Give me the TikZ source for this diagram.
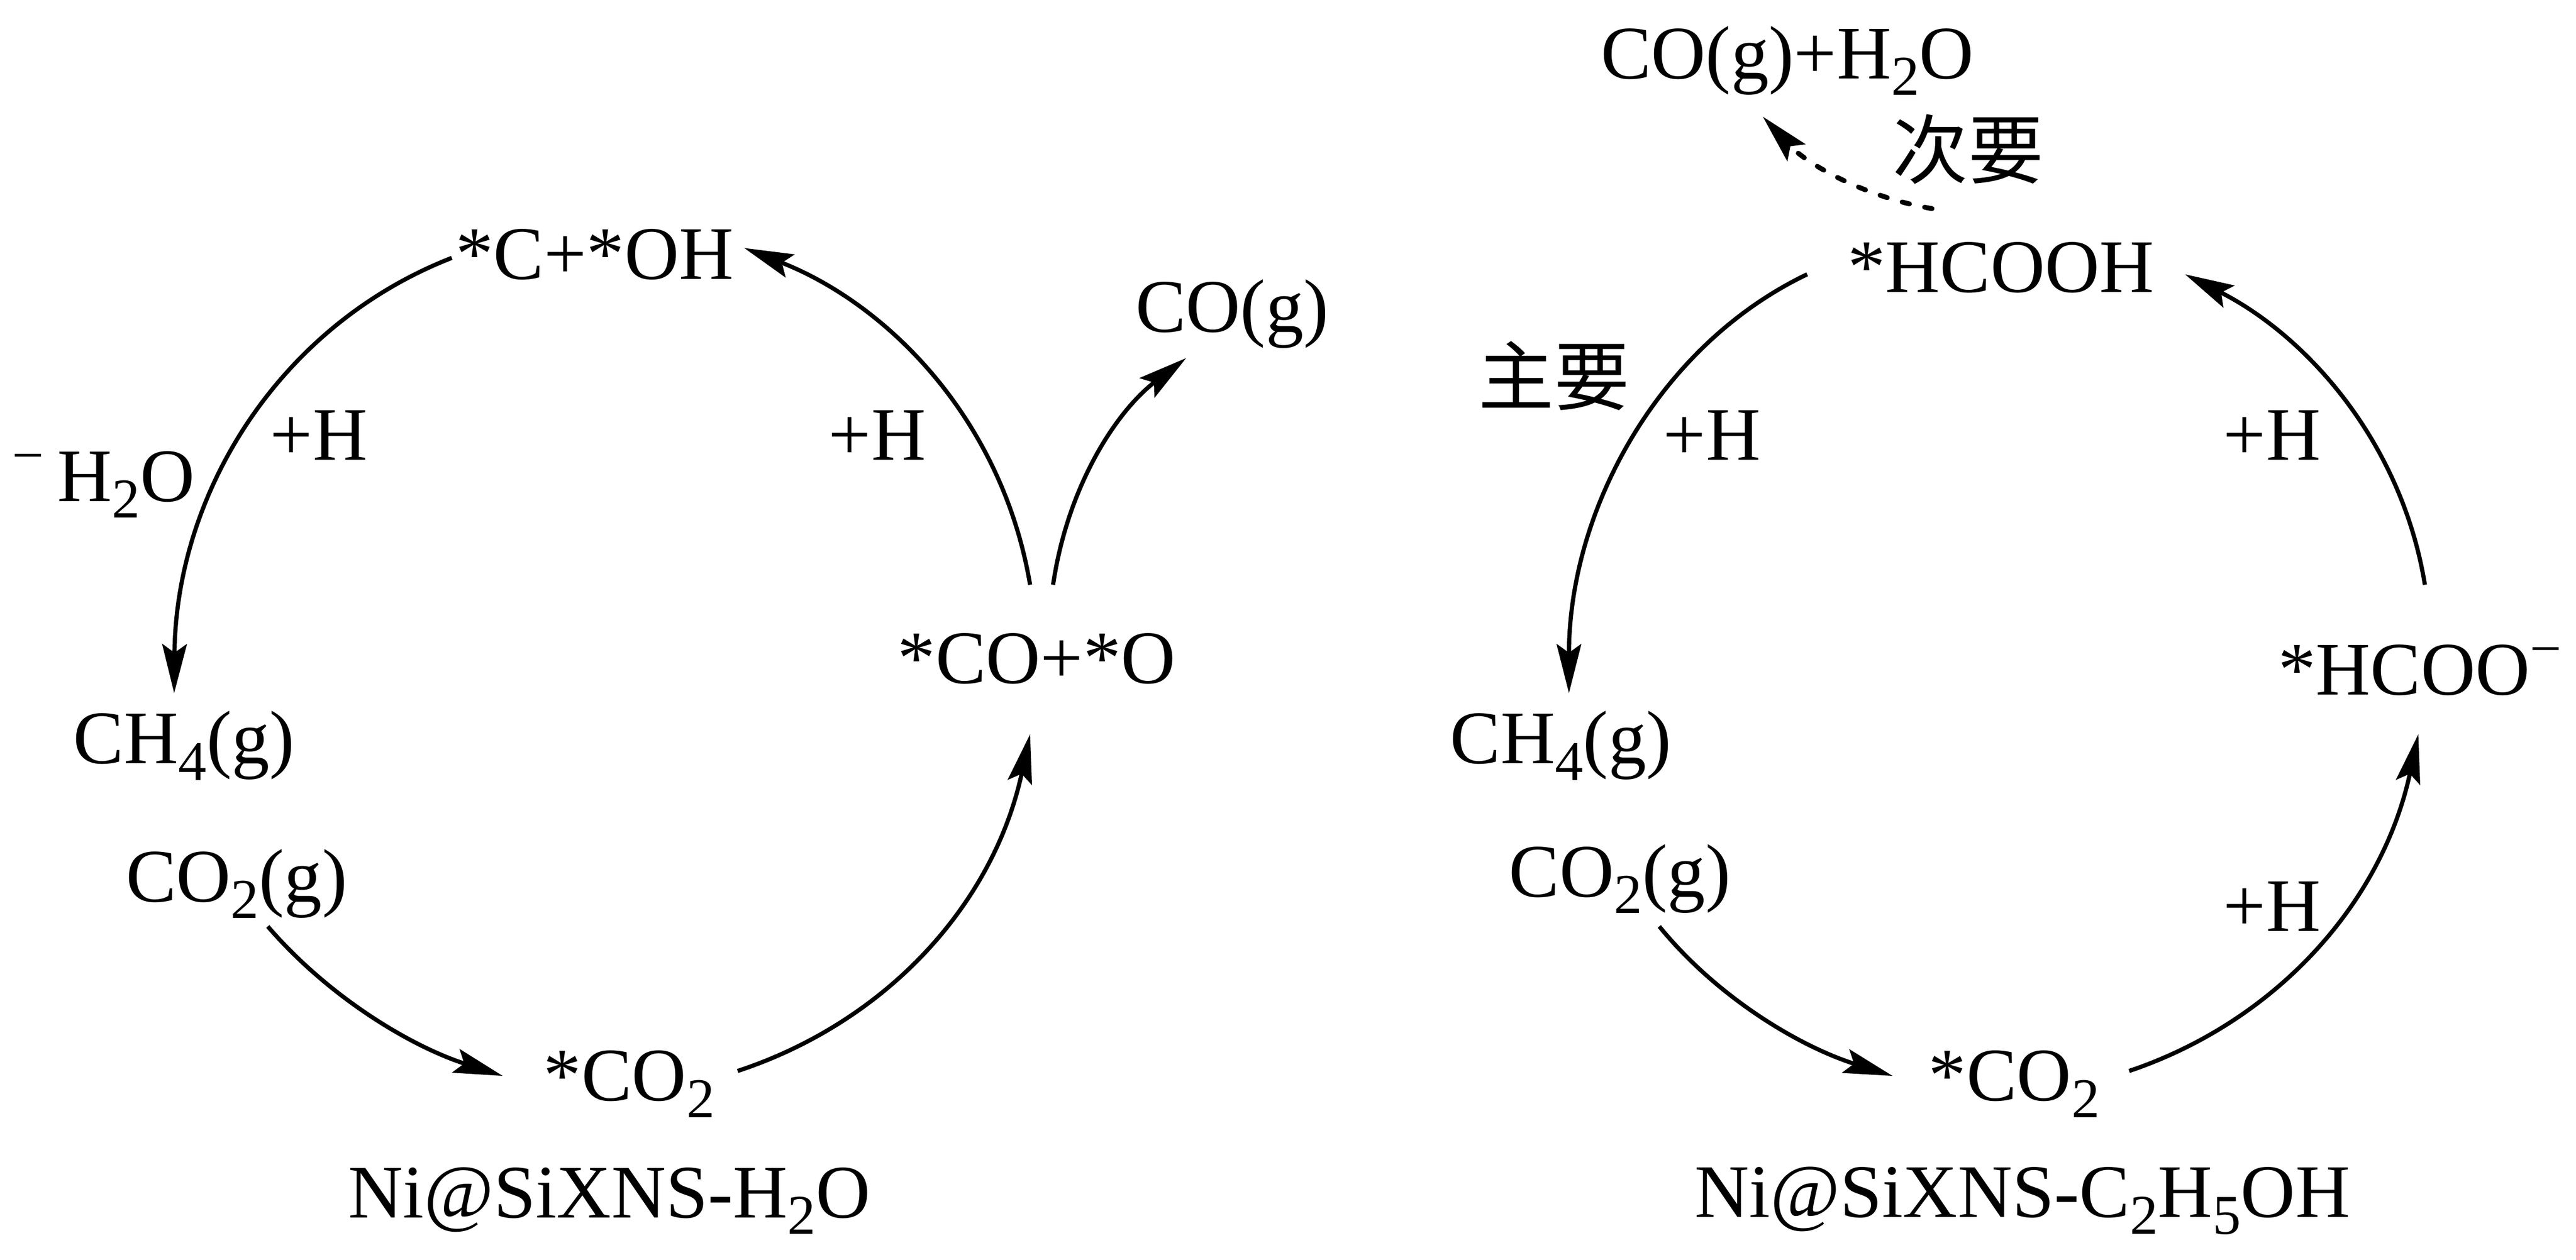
\documentclass[tikz,border=0pt]{standalone}
\usepackage{fontspec}
\setmainfont{Liberation Serif}
\newfontfamily\cjk{Noto Sans CJK SC}
\usetikzlibrary{arrows.meta}
\newcommand{\sbs}[1]{\raisebox{-0.22em}{\fontsize{19.5}{22}\selectfont #1}}
\newcommand{\sps}[1]{\raisebox{0.36em}{\fontsize{19.5}{22}\selectfont #1}}
\tikzset{
 lbl/.style={inner sep=0pt,font=\fontsize{26.2}{30}\selectfont,anchor=center},
 cyc/.style={line width=1.45pt,-{Stealth[length=17pt,width=8.5pt,inset=3pt]}},
 dsh/.style={line width=1.7pt,-{Stealth[length=17pt,width=8.5pt,inset=3pt]},line cap=round,dash pattern=on 2.6pt off 5.4pt}
}
\begin{document}
\begin{tikzpicture}[x=0.02cm,y=-0.02cm]
\useasboundingbox (0,0) rectangle (1568,767);
\node[lbl] (ac) at (362,155) {*C+*OH};
\node[lbl] (ach4) at (112,454) {CH\sbs{4}(g)};
\node[lbl] (aco2g) at (144,538) {CO\sbs{2}(g)};
\node[lbl] (aco2) at (383,660) {*CO\sbs{2}};
\node[lbl] (aco) at (631,401) {*CO+*O};
\node[lbl] (acog) at (750,191) {CO(g)};
\node[lbl] (ah1) at (194,265) {+H};
\node[lbl] (ah2) at (534,265) {+H};
\node[lbl] (ah3) at (63,295) {\sps{−}\kern0.18em H\sbs{2}O};
\node[lbl] (at) at (371,731) {Ni@SiXNS-H\sbs{2}O};
\coordinate (a1) at (275,157); \coordinate (a2) at (106,422);
\draw[cyc] (a1) .. controls (170,198) and (107,300) .. (a2);
\coordinate (a3) at (163,564); \coordinate (a4) at (306,655);
\draw[cyc] (a3) .. controls (200,607) and (250,637) .. (a4);
\coordinate (a5) at (449,652); \coordinate (a6) at (627,447);
\draw[cyc] (a5) .. controls (540,622) and (605,550) .. (a6);
\coordinate (a7) at (627,356); \coordinate (a8) at (453,151);
\draw[cyc] (a7) .. controls (610,255) and (540,185) .. (a8);
\coordinate (a9) at (641,356); \coordinate (a10) at (722,218);
\draw[cyc] (a9) .. controls (650,295) and (680,250) .. (a10);
\node[lbl] (bp) at (1088,37) {CO(g)+H\sbs{2}O};
\node[lbl] (bh) at (1218,163) {*HCOOH};
\node[lbl] (bch4) at (950,454) {CH\sbs{4}(g)};
\node[lbl] (bco2g) at (986,535) {CO\sbs{2}(g)};
\node[lbl] (bco2) at (1226,660) {*CO\sbs{2}};
\node[lbl] (bf) at (1473,408) {*HCOO\sps{−}};
\node[lbl] (bm) at (1198,91) {\cjk 次要};
\node[lbl] (bz) at (946,229) {\cjk 主要};
\node[lbl] (bh1) at (1042,265) {+H};
\node[lbl] (bh2) at (1383,265) {+H};
\node[lbl] (bh3) at (1383,552) {+H};
\node[lbl] (bt) at (1231,731) {Ni@SiXNS-C\sbs{2}H\sbs{5}OH};
\coordinate (b1) at (1100,167); \coordinate (b2) at (955,422);
\draw[cyc] (b1) .. controls (1010,210) and (955,310) .. (b2);
\coordinate (b3) at (1010,564); \coordinate (b4) at (1152,655);
\draw[cyc] (b3) .. controls (1045,607) and (1095,637) .. (b4);
\coordinate (b5) at (1296,652); \coordinate (b6) at (1472,447);
\draw[cyc] (b5) .. controls (1385,622) and (1450,550) .. (b6);
\coordinate (b7) at (1476,356); \coordinate (b8) at (1330,167);
\draw[cyc] (b7) .. controls (1462,270) and (1405,205) .. (b8);
\coordinate (b9) at (1176,127); \coordinate (b10) at (1073,71);
\draw[dsh] (b9) .. controls (1135,120) and (1100,100) .. (b10);
\end{tikzpicture}
\end{document}
